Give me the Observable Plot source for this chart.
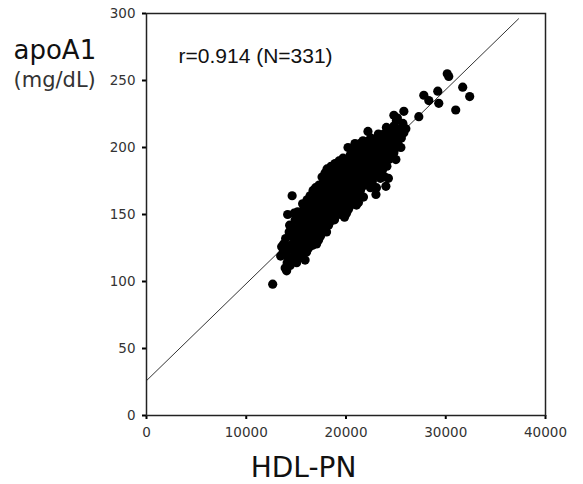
<!DOCTYPE html>
<html><head><meta charset="utf-8">
<script src="https://cdn.jsdelivr.net/npm/d3@7"></script>
<script src="https://cdn.jsdelivr.net/npm/@observablehq/plot@0.6"></script>
<style>
html,body{margin:0;padding:0;background:#fff;}
</style>
</head><body>
<div id="chart"></div>
<script>
// Axis ticks
const xTicks = [0, 10000, 20000, 30000, 40000];
const yTicks = [0, 50, 100, 150, 200, 250, 300];
// Annotation / titles
const statText = "r=0.914 (N=331)";
const yTitle = "apoA1";
const yUnit = "(mg/dL)";
const xTitle = "HDL-PN";
// Fitted line
const fitIntercept = 26;
const fitSlope = 0.00724;
const fitRange = [0, 37300];

// [HDL-PN, apoA1] readings
const lowTail = [
[12650,98],[13450,119],[13550,126],[13700,122],[13750,128],[13900,110],[13950,132],
[14050,108],[14100,114],[14000,120],[14200,118],[14250,126],[14300,137],[14150,150],
[14400,112],[14450,124],[14350,142],[14600,117],[14650,128],[14550,134],[14700,140],
[14800,151],[14600,164],[14850,120],[14900,146],[15050,114],[15000,122],[15100,131],
[14950,138],[15150,152],[15250,118],[15200,127],[15300,135],[15350,143],[15200,150],
[15450,125],[15400,133],[15500,146],[15650,158],[15600,120],[15700,130],[15650,138],
[15550,152],[15900,116],[15800,127],[15850,135],[15750,142],[15900,149],[15800,156]
];
const core = [
[16050,122],[16000,131],[16100,139],[16000,146],[16150,153],[16100,161],
[16250,125],[16300,134],[16200,142],[16350,148],[16250,157],[16400,164],
[16450,129],[16500,136],[16400,143],[16550,150],[16450,155],
[16650,127],[16600,138],[16700,145],[16650,152],[16750,159],[16700,168],
[16850,132],[16900,140],[16800,147],[16950,154],[16850,161],[16950,170],
[17050,128],[17100,135],[17000,143],[17150,149],[17050,156],[17150,164],
[17250,131],[17300,139],[17200,146],[17350,152],[17250,159],[17300,172],
[17450,134],[17400,142],[17500,149],[17450,156],[17550,162],[17400,168],
[17650,138],[17600,145],[17700,151],[17650,158],[17750,165],[17600,178],
[17850,140],[17800,148],[17900,154],[17850,161],[17950,167],[17800,174],[17900,181],
[18050,137],[18000,145],[18100,152],[18050,159],[18150,165],[18000,172],[18100,184],
[18250,142],[18300,149],[18200,156],[18350,162],[18250,169],[18300,176],
[18450,145],[18400,152],[18500,158],[18450,165],[18550,171],[18400,178],[18500,186],
[18650,148],[18700,155],[18600,161],[18750,167],[18650,174],[18700,181],
[18850,146],[18800,153],[18900,160],[18850,166],[18950,173],[18800,179],[18900,188],
[19050,150],[19000,157],[19100,163],[19050,170],[19150,176],[19000,183],
[19250,151],[19200,158],[19300,165],[19250,171],[19350,178],[19200,184],[19300,190],
[19450,150],[19400,156],[19500,162],[19450,168],[19550,175],[19400,181],[19500,187],
[19650,153],[19600,160],[19700,166],[19650,172],[19750,178],[19600,185],[19700,192],
[19850,148],[19900,155],[19800,162],[19950,169],[19850,175],[19900,181],[19800,188],
[20050,151],[20000,158],[20100,165],[20050,171],[20150,177],[20000,184],[20100,191],
[20200,200],
[20250,154],[20300,161],[20200,167],[20350,173],[20250,180],[20300,187],[20400,194],
[20450,157],[20500,163],[20400,170],[20550,176],[20450,183],[20500,190],
[20650,158],[20600,165],[20700,172],[20650,179],[20750,186],[20600,197],
[20850,161],[20800,168],[20900,175],[20850,182],[20950,189],[20800,196],[20900,203],
[21050,157],[21100,164],[21000,171],[21150,178],[21050,185],[21100,192],[21000,199],
[21250,159],[21300,167],[21200,174],[21350,181],[21250,188],[21300,195],[21400,203],
[21450,168],[21500,176],[21550,183],[21450,190],[21500,198],
[21650,171],[21700,178],[21600,185],[21750,192],[21650,200],[21700,205],
[21750,163],
[21850,173],[21900,180],[21800,187],[21950,194],[21850,201],
[22050,175],[22000,182],[22100,189],[22050,196],[22150,203],
[22200,212],
[22250,177],[22300,184],[22200,191],[22350,198],[22250,205],
[22450,170],[22500,179],[22400,186],[22550,193],[22450,200],[22500,207],
[22650,175],[22600,182],[22700,189],[22650,196],[22750,203],
[22850,179],[22800,186],[22900,193],[22850,200],[22950,206],
[23000,165],[23050,170],[23100,181],[23000,188],[23150,195],[23050,202],
[23250,184],[23300,191],[23200,198],[23350,205],[23250,210],
[23450,177],[23400,187],[23500,194],[23450,201],
[23650,183],[23600,190],[23700,197],[23650,204],[23550,209],
[23900,178],[23850,192],[23800,199],[23900,206],[23800,210]
];
const highTail = [
[24000,171],[24100,186],[24050,196],[24000,203],[24100,208],[24050,215],
[24250,177],[24300,191],[24200,199],[24350,205],[24250,212],
[24550,193],[24500,201],[24600,207],[24500,213],
[24800,196],[24850,204],[24750,211],[24800,216],[24800,224],
[25000,191],[25050,200],[25000,208],[25050,220],
[25200,203],[25250,210],[25150,222],
[25500,200],[25550,207],[25450,214],[25700,218],
[25800,211],[25800,227],[26000,214],
[27300,223],[27800,239],[28300,235],
[29200,242],[29300,233],[30150,255],[30300,253],[31000,228],[31700,245],[32400,238]
];

const points = [...lowTail, ...core, ...highTail].map(([x, y]) => ({x, y}));
const fitLine = fitRange.map(x => ({x, y: fitIntercept + fitSlope * x}));

const fmt = d3.format("d");
const chart = Plot.plot({
  width: 583,
  height: 484,
  marginLeft: 146,
  marginRight: 38,
  marginTop: 13,
  marginBottom: 69,
  style: {fontFamily: "'DejaVu Sans', sans-serif", background: "#fff", overflow: "visible"},
  x: {domain: [0, 40000]},
  y: {domain: [0, 300]},
  marks: [
    Plot.axisX({ticks: xTicks, tickFormat: fmt, tickSize: 4, tickPadding: 8, strokeWidth: 2, fontSize: 13.5, fill: "#333", label: null}),
    Plot.axisY({ticks: yTicks, tickFormat: fmt, tickSize: 4, tickPadding: 7, strokeWidth: 2, fontSize: 13.5, fill: "#333", label: null}),
    Plot.line(fitLine, {x: "x", y: "y", stroke: "#333", strokeWidth: 1}),
    Plot.dot(points, {x: "x", y: "y", r: 4.6, fill: "#000", stroke: "none"}),
    Plot.frame({stroke: "#222", strokeWidth: 1.5}),
    Plot.text([statText], {frameAnchor: "top-left", lineAnchor: "middle", dx: 32, dy: 42.3, textAnchor: "start", fontSize: 21, fontFamily: "'Liberation Sans', Arial, sans-serif", fill: "#111"}),
    Plot.text([yTitle], {frameAnchor: "top-left", lineAnchor: "middle", dx: -133, dy: 36.7, textAnchor: "start", fontSize: 26, fill: "#111"}),
    Plot.text([yUnit], {frameAnchor: "top-left", lineAnchor: "middle", dx: -133, dy: 66.8, textAnchor: "start", fontSize: 21, fill: "#333"}),
    Plot.text([xTitle], {frameAnchor: "bottom", lineAnchor: "middle", dx: -42.5, dy: 53, fontSize: 28, fill: "#111"})
  ]
});
document.getElementById("chart").appendChild(chart);
</script>
</body></html>
